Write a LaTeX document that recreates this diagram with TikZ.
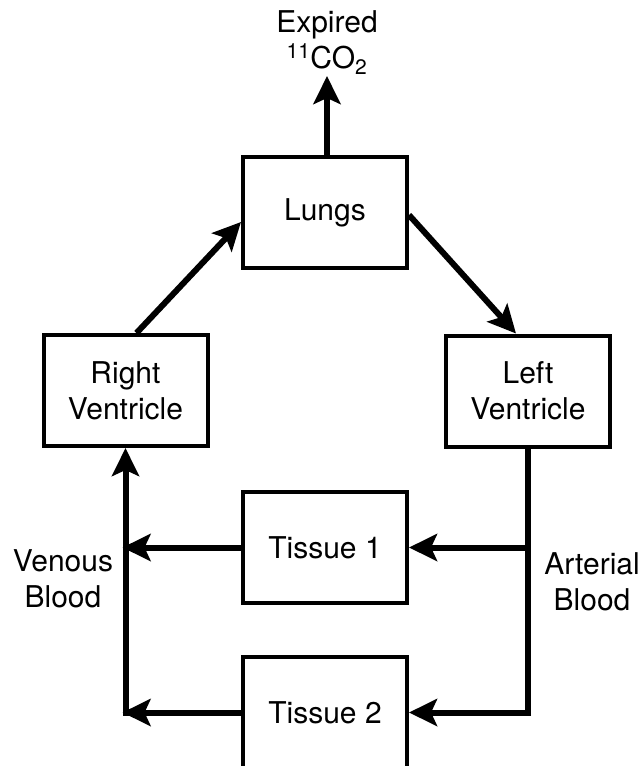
\documentclass[tikz,border=0pt]{standalone}
\usepackage{fontspec}
\setmainfont{TeX Gyre Heros}
\usetikzlibrary{arrows.meta,calc}
\begin{document}
\begin{tikzpicture}[x=1pt,y=-1pt,
  every node/.style={font=\fontsize{30}{36}\selectfont},
  organ/.style={draw,line width=4pt,minimum width=164pt,minimum height=111pt,inner sep=0pt,align=center},
  flow/.style={line width=6pt,-{Stealth[length=28pt,width=27pt,inset=6pt]}},
  plain/.style={line width=6pt},
  lbl/.style={align=center,inner sep=0pt}]
\useasboundingbox (0,0) rectangle (642,766);
\node[organ] (lungs) at (325,212.5) {Lungs};
\node[organ] (rv) at (125.5,390.5) {Right\\Ventricle};
\node[organ] (lv) at (528,391) {Left\\Ventricle};
\node[organ] (t1) at (325,547.5) {Tissue 1};
\node[organ] (t2) at (325,712.5) {Tissue 2};
\node[lbl,anchor=base] (exp) at (327,68) {Expired\\\textsuperscript{11}CO\textsubscript{2}};
\node[lbl,anchor=base] (ven) at (63,607) {Venous\\Blood};
\node[lbl,anchor=base] (art) at (592,610) {Arterial\\Blood};
\coordinate (co2) at (327,76);
\coordinate (art1) at (lv.south |- t1.east);
\coordinate (art2) at (lv.south |- t2.east);
\coordinate (ven1) at (rv.south |- t1.west);
\coordinate (ven2) at (rv.south |- t2.west);
\draw[flow] (lungs.north -| co2) -- (co2);
\draw[flow] ($(rv.north)+(11,0)$) -- ($(lungs.west)+(0,9.5)$);
\draw[flow] ($(lungs.east)+(0,2.5)$) -- ($(lv.north)+(-12,0)$);
\draw[plain] (lv.south) -- ($(art2)+(0,3)$);
\draw[flow] ($(art2)+(3,0)$) -- (t2.east);
\draw[flow] (art1) -- (t1.east);
\draw[flow] (t1.west) -- ($(ven1)+(-3,0)$);
\draw[flow] (t2.west) -- ($(ven2)+(-3,0)$);
\draw[flow] ($(ven2)+(0,3)$) -- (rv.south);
\end{tikzpicture}
\end{document}
